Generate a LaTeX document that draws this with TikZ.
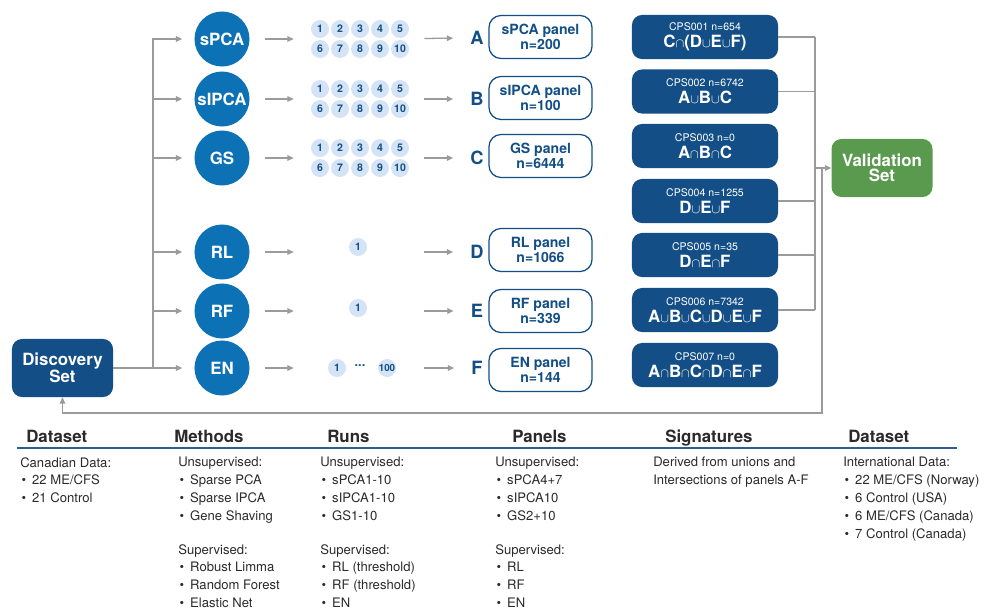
\documentclass[tikz,border=0pt]{standalone}
\usepackage{fontspec}
\setmainfont{TeX Gyre Heros}
\definecolor{discblue}{HTML}{134F86}
\definecolor{methodblue}{HTML}{0C71B5}
\definecolor{runblue}{HTML}{D4E4F6}
\definecolor{validgreen}{HTML}{5A9A4F}
\definecolor{flowgray}{HTML}{9B9B9B}
\definecolor{ruleblue}{HTML}{2D5E94}
\definecolor{tabletext}{HTML}{2A2A2A}
\usetikzlibrary{arrows.meta,positioning}
\newcommand{\cupsym}{{\fontsize{9}{9}\selectfont$\cup$}}
\newcommand{\capsym}{{\fontsize{9}{9}\selectfont$\cap$}}
\newcommand{\listbullet}{\makebox[8.5pt][l]{\hspace{1pt}\textbullet}}
\tikzset{
    datasetbox/.style={
        fill=discblue,
        text=white,
        rounded corners=0.25cm,
        minimum width=2.525cm,
        minimum height=1.45cm,
        align=center,
        font=\fontsize{12}{11}\selectfont\bfseries
    },
    validationbox/.style={
        datasetbox,
        fill=validgreen
    },
    methodnode/.style={
        circle,
        fill=methodblue,
        text=white,
        minimum size=1.375cm,
        inner sep=0pt,
        font=\fontsize{12}{12}\selectfont\bfseries
    },
    runbubble/.style={
        circle,
        fill=runblue,
        text=discblue,
        minimum size=0.45cm,
        inner sep=0pt,
        font=\fontsize{7.5}{7.5}\selectfont\bfseries
    },
    rungroup/.style={
        minimum width=2.45cm,
        minimum height=1cm,
        inner sep=0pt
    },
    panelletter/.style={
        text=discblue,
        inner sep=0pt,
        font=\fontsize{13}{13}\selectfont\bfseries
    },
    panelnode/.style={
        draw=discblue,
        line width=0.9pt,
        fill=white,
        rounded corners=0.3cm,
        minimum width=2.575cm,
        minimum height=1.075cm,
        align=center,
        text=discblue,
        font=\fontsize{10}{11}\selectfont\bfseries
    },
    signaturenode/.style={
        fill=discblue,
        text=white,
        rounded corners=0.25cm,
        minimum width=3.65cm,
        minimum height=1.1cm,
        align=center,
        inner sep=0pt
    },
    flowarrow/.style={
        -{Triangle[length=4.5pt,width=4pt]},
        draw=flowgray,
        line width=0.9pt,
        shorten <=0.375cm,
        shorten >=0.425cm
    },
    branchline/.style={
        -{Triangle[length=4.5pt,width=4pt]},
        draw=flowgray,
        line width=0.9pt,
        shorten >=0.3cm
    },
    bracketline/.style={
        draw=flowgray,
        line width=0.9pt
    },
    bracketarrow/.style={
        bracketline,
        -{Triangle[length=4.5pt,width=4pt]}
    },
    tablehead/.style={
        anchor=base west,
        inner sep=0pt,
        text=tabletext,
        font=\fontsize{12}{12}\selectfont\bfseries
    },
    tablebody/.style={
        anchor=north west,
        inner sep=0pt,
        align=left,
        text=tabletext,
        font=\fontsize{9.3}{12.75}\selectfont
    }
}

\begin{document}
\begin{tikzpicture}[x=0.025cm,y=-0.025cm]
    \useasboundingbox (0,0) rectangle (1003,611);

    % datasets
    \node[datasetbox] (disc) at (62.5,368) {Discovery\\Set};
    \node[validationbox] (valid) at (882,168) {Validation\\Set};

    % methods
    \node[methodnode] (spca) at (222,39) {sPCA};
    \node[methodnode] (sipca) at (222,99) {sIPCA};
    \node[methodnode] (gs) at (222,158) {GS};
    \node[methodnode] (rl) at (222,252) {RL};
    \node[methodnode] (rf) at (222,311) {RF};
    \node[methodnode] (en) at (222,368) {EN};

    % runs
    \foreach \grp/\cy in {spca/39, sipca/99, gs/158} {
        \node[rungroup] (\grp-runs) at (360,\cy) {};
        \foreach \i in {1,...,5} {
            \pgfmathtruncatemacro{\j}{\i+5}
            \node[runbubble] (\grp-\i) at ({300+20*\i},{\cy-10}) {\i};
            \node[runbubble] (\grp-\j) at ({300+20*\i},{\cy+10}) {\j};
        }
    }
    \node[rungroup] (rl-runs) at (360,252) {};
    \node[runbubble] (rl-1) at (358,247) {1};
    \node[rungroup] (rf-runs) at (360,311) {};
    \node[runbubble] (rf-1) at (358,308) {1};
    \node[rungroup] (en-runs) at (360,368) {};
    \node[runbubble] (en-1) at (337,368) {1};
    \node[text=discblue,font=\bfseries\small] (en-dots) at (360,366) {...};
    \node[runbubble,font=\fontsize{7}{7}\selectfont\bfseries] (en-100) at (387,368) {100};

    % panels
    \foreach \ltr/\cy in {A/38, B/99, C/158, D/252, E/311, F/368}
        \node[panelletter] (let\ltr) at (477,\cy) {\ltr};
    \node[panelnode] (panelA) at (540.5,37) {sPCA panel\\n=200};
    \node[panelnode] (panelB) at (540.5,98) {sIPCA panel\\n=100};
    \node[panelnode] (panelC) at (540.5,156) {GS panel\\n=6444};
    \node[panelnode] (panelD) at (540.5,250) {RL panel\\n=1066};
    \node[panelnode] (panelE) at (540.5,311) {RF panel\\n=339};
    \node[panelnode] (panelF) at (540.5,370) {EN panel\\n=144};

    % signatures
    \node[signaturenode] (cps1) at (705,37)
        {{\fontsize{7.5}{9}\selectfont CPS001 n=654}\\
         {\fontsize{12}{13}\selectfont\bfseries C\capsym(D\cupsym E\cupsym F)}};
    \node[signaturenode] (cps2) at (705,91.5)
        {{\fontsize{7.5}{9}\selectfont CPS002 n=6742}\\
         {\fontsize{12}{13}\selectfont\bfseries A\cupsym B\cupsym C}};
    \node[signaturenode] (cps3) at (705,146)
        {{\fontsize{7.5}{9}\selectfont CPS003 n=0}\\
         {\fontsize{12}{13}\selectfont\bfseries A\capsym B\capsym C}};
    \node[signaturenode] (cps4) at (705,201)
        {{\fontsize{7.5}{9}\selectfont CPS004 n=1255}\\
         {\fontsize{12}{13}\selectfont\bfseries D\cupsym E\cupsym F}};
    \node[signaturenode] (cps5) at (705,255)
        {{\fontsize{7.5}{9}\selectfont CPS005 n=35}\\
         {\fontsize{12}{13}\selectfont\bfseries D\capsym E\capsym F}};
    \node[signaturenode] (cps6) at (705,310)
        {{\fontsize{7.5}{9}\selectfont CPS006 n=7342}\\
         {\fontsize{12}{13}\selectfont\bfseries A\cupsym B\cupsym C\cupsym D\cupsym E\cupsym F}};
    \node[signaturenode] (cps7) at (705,365)
        {{\fontsize{7.5}{9}\selectfont CPS007 n=0}\\
         {\fontsize{12}{13}\selectfont\bfseries A\capsym B\capsym C\capsym D\capsym E\capsym F}};

    % branches from the discovery set
    \coordinate (trunk) at (153,368);
    \foreach \m in {spca,sipca,gs,rl,rf}
        \draw[branchline] (trunk) |- (\m);
    \draw[branchline] (disc) -- (en);

    % methods -> runs -> panels
    \foreach \m/\ltr in {spca/A, sipca/B, gs/C, rl/D, rf/E, en/F} {
        \draw[flowarrow] (\m) -- (\m-runs);
        \draw[flowarrow] (\m-runs) -- (let\ltr);
    }

    % signatures -> validation -> back to discovery
    \coordinate (bracket) at (815,168);
    \coordinate (loopback) at (822,413);
    \foreach \s in {cps1,cps2,cps4,cps5,cps6}
        \draw[bracketline] (\s.east) -- (\s.east -| bracket);
    \draw[bracketline] (cps1.east -| bracket) -- (cps6.east -| bracket);
    \draw[bracketarrow] (bracket) -- (valid);
    \draw[bracketarrow] (bracket -| loopback) -- (loopback) -| (disc.south);

    % table
    \draw[ruleblue,line width=0.9pt] (17,448) -- (957,448);
    \node[tablehead] (h-data) at (26,442) {Dataset};
    \node[tablehead] (h-meth) at (174,442) {Methods};
    \node[tablehead] (h-runs) at (327,442) {Runs};
    \node[tablehead] (h-pan) at (512,442) {Panels};
    \node[tablehead] (h-sig) at (665,442) {Signatures};
    \node[tablehead] (h-val) at (848,442) {Dataset};

    \node[tablebody] (b-data) at (20,457)
        {Canadian Data:\\\listbullet 22 ME/CFS\\\listbullet 21 Control};
    \node[tablebody] (b-meth) at (178,457)
        {Unsupervised:\\\listbullet Sparse PCA\\\listbullet Sparse IPCA\\\listbullet Gene Shaving\\[11pt]
         Supervised:\\\listbullet Robust Limma\\\listbullet Random Forest\\\listbullet Elastic Net};
    \node[tablebody] (b-runs) at (320,457)
        {Unsupervised:\\\listbullet sPCA1-10\\\listbullet sIPCA1-10\\\listbullet GS1-10\\[11pt]
         Supervised:\\\listbullet RL (threshold)\\\listbullet RF (threshold)\\\listbullet EN};
    \node[tablebody] (b-pan) at (495,457)
        {Unsupervised:\\\listbullet sPCA4+7\\\listbullet sIPCA10\\\listbullet GS2+10\\[11pt]
         Supervised:\\\listbullet RL\\\listbullet RF\\\listbullet EN};
    \node[tablebody] (b-sig) at (653,457)
        {Derived from unions and\\Intersections of panels A-F};
    \node[tablebody] (b-val) at (843,457)
        {International Data:\\\listbullet 22 ME/CFS (Norway)\\\listbullet 6 Control (USA)\\
         \listbullet 6 ME/CFS (Canada)\\\listbullet 7 Control (Canada)};
\end{tikzpicture}
\end{document}
